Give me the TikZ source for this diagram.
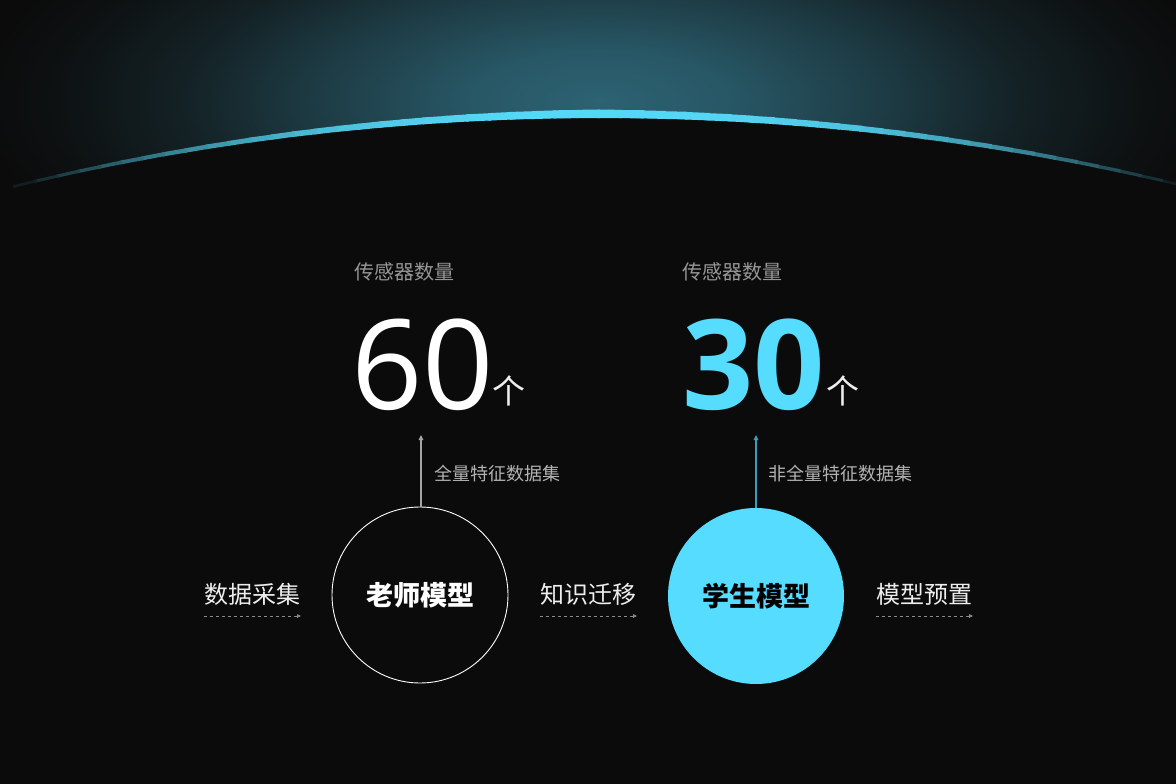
\documentclass[tikz,border=0pt]{standalone}
\usepackage{fontspec}
\setmainfont{Open Sans}
\newfontfamily\cjk{Noto Sans CJK SC}
\usetikzlibrary{arrows.meta}
\definecolor{bgc}{RGB}{11,11,11}
\definecolor{glowc}{RGB}{44,98,114}
\definecolor{arcc}{RGB}{85,216,247}
\definecolor{cyanc}{RGB}{85,220,255}
\definecolor{greyt}{RGB}{150,150,150}
\definecolor{lightt}{RGB}{178,178,178}
\definecolor{whitet}{RGB}{238,238,238}
\definecolor{tealline}{RGB}{58,158,184}
\definecolor{dashc}{RGB}{140,140,140}
\pgfdeclareradialshading{glow}{\pgfpointorigin}{color(0bp)=(glowc); color(5bp)=(glowc!88!bgc); color(11bp)=(glowc!58!bgc); color(17bp)=(glowc!25!bgc); color(22bp)=(glowc!7!bgc); color(25bp)=(bgc); color(50bp)=(bgc)}
\begin{document}
\begin{tikzpicture}[x=1pt,y=1pt,
  cjktext/.style={inner sep=0pt, font=\cjk\fontsize{#1}{#1}\selectfont},
  cjktext/.default=20,
  headlbl/.style={cjktext=20, text=greyt},
  flowlbl/.style={cjktext=24, text=whitet},
  setlbl/.style={cjktext=18, text=lightt},
  bignum/.style={inner sep=0pt, anchor=base west, font=\fontsize{125}{125}\selectfont},
  unitlbl/.style={cjktext=33, text=whitet},
  model/.style={circle, minimum size=176pt, inner sep=0pt, font=\cjk\bfseries\fontsize{27}{27}\selectfont},
  dasharrow/.style={draw=dashc, line width=0.8pt, dash pattern=on 3pt off 3pt, -{Triangle[length=4pt,width=3.5pt]}},
  uparrow/.style={line width=1.4pt, -{Triangle[length=5pt,width=4.5pt]}}
]
\useasboundingbox (0,0) rectangle (1176,-784);
\fill[bgc] (0,0) rectangle (1176,-784);
% glow
\shade[shading=glow] (600,-100) ellipse (620 and 240);
% planet
\fill[bgc] (600,-2619) circle (2501);
% rim arc
\foreach \a in {76.5,77,...,103.0}{
  \pgfmathsetmacro\t{abs(\a+0.25-90)/13.75}
  \pgfmathsetmacro\w{8.5-6*\t}
  \pgfmathsetmacro\p{100-100*\t^2.6}
  \pgfmathsetmacro\r{2501+\w/2}
  \draw[line width=\w pt, color=arcc!\p!bgc] ({600+\r*cos(\a)},{-2619+\r*sin(\a)}) arc[start angle=\a, end angle=\a+0.56, radius=\r];
}
% headings
\node[headlbl] (h1) at (404,-272) {传感器数量};
\node[headlbl] (h2) at (732,-272) {传感器数量};
\node[bignum, text=white] (n60) at (351,-409) {60};
\node[bignum, text=cyanc] (n30) at (682,-409) {\bfseries 30};
\node[unitlbl] (u1) at (509,-391) {个};
\node[unitlbl] (u2) at (843,-391) {个};
% models
\node[model, draw=white, line width=0.9pt, fill=bgc, text=white] (teacher) at (420,-595) {老师模型};
\node[model, fill=cyanc, text=black] (student) at (756,-596) {学生模型};
% up arrows
\coordinate (t1) at (421,-435);
\coordinate (t2) at (756,-435);
\draw[uparrow, draw=greyt!85!white, fill=white] (teacher.north -| t1) -- (t1);
\draw[uparrow, draw=tealline, fill=tealline] (student.north) -- (t2);
\node[setlbl] (s1) at (497,-474) {全量特征数据集};
\node[setlbl] (s2) at (840,-474) {非全量特征数据集};
% flow labels
\node[flowlbl] (f1) at (252,-594) {数据采集};
\node[flowlbl] (f2) at (588,-594) {知识迁移};
\node[flowlbl] (f3) at (924,-594) {模型预置};
\coordinate (d1a) at (204,-616); \coordinate (d1b) at (301,-616);
\coordinate (d2a) at (540,-616); \coordinate (d2b) at (637,-616);
\coordinate (d3a) at (876,-616); \coordinate (d3b) at (973,-616);
\draw[dasharrow] (d1a) -- (d1b);
\draw[dasharrow] (d2a) -- (d2b);
\draw[dasharrow] (d3a) -- (d3b);
\end{tikzpicture}
\end{document}
